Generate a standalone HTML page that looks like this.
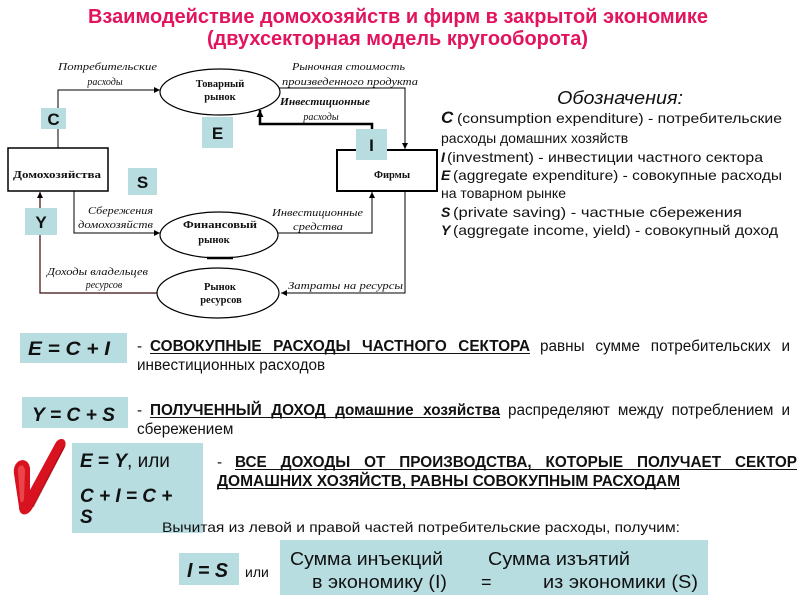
<!DOCTYPE html>
<html><head><meta charset="utf-8"><style>
html,body{margin:0;padding:0;background:#fff;width:800px;height:600px;overflow:hidden}
svg{display:block}
text{font-family:"Liberation Sans","DejaVu Sans",sans-serif}
.s{font-family:"Liberation Serif","DejaVu Serif",serif;font-style:italic;font-size:10px;fill:#111}
.n{font-family:"Liberation Serif","DejaVu Serif",serif;font-size:10.5px;font-weight:bold;fill:#111}
.lg{font-size:14px;fill:#111}
.d{font-size:15.3px;fill:#111}
.bi{font-weight:bold;font-style:italic}
</style></head><body>
<svg width="800" height="600" viewBox="0 0 800 600" xmlns="http://www.w3.org/2000/svg">
<defs>
<marker id="ar" viewBox="0 0 10 10" refX="10" refY="5" markerWidth="6" markerHeight="6" orient="auto-start-reverse" markerUnits="userSpaceOnUse"><path d="M0,0 L10,5 L0,10 z" fill="#000"/></marker>
<marker id="ar2" viewBox="0 0 10 10" refX="10" refY="5" markerWidth="7" markerHeight="7" orient="auto" markerUnits="userSpaceOnUse"><path d="M0,0 L10,5 L0,10 z" fill="#000"/></marker>
</defs>

<!-- Title -->
<text x="88" y="23" font-size="20" font-weight="bold" fill="#E3145E" textLength="620" lengthAdjust="spacingAndGlyphs">Взаимодействие домохозяйств и фирм в закрытой экономике</text>
<text x="207" y="45" font-size="20" font-weight="bold" fill="#E3145E" textLength="381" lengthAdjust="spacingAndGlyphs">(двухсекторная модель кругооборота)</text>

<!-- Diagram connectors -->
<polyline points="58,148 58,90 160,90" fill="none" stroke="#000" stroke-width="1" marker-end="url(#ar)"/>
<polyline points="279,88 405,88 405,149" fill="none" stroke="#000" stroke-width="1" marker-end="url(#ar)"/>
<polyline points="372,151 372,124 260,124 260,110" fill="none" stroke="#000" stroke-width="2.5" marker-end="url(#ar2)"/>
<polyline points="74,191 74,233 160,233" fill="none" stroke="#000" stroke-width="1" marker-end="url(#ar)"/>
<polyline points="278,233 372,233 372,192" fill="none" stroke="#000" stroke-width="1" marker-end="url(#ar)"/>
<polyline points="405,191 405,293 281,293" fill="none" stroke="#000" stroke-width="1" marker-end="url(#ar)"/>
<polyline points="157,293 40,293 40,192" fill="none" stroke="#3a0a0a" stroke-width="1.2" marker-end="url(#ar)"/>

<!-- Ellipses -->
<ellipse cx="220" cy="92" rx="60" ry="23" fill="#fff" stroke="#000" stroke-width="1.2"/>
<ellipse cx="219" cy="235" rx="59" ry="23" fill="#fff" stroke="#000" stroke-width="1.2"/>
<line x1="207" y1="258" x2="233" y2="258" stroke="#000" stroke-width="2.5"/>
<ellipse cx="218" cy="293" rx="61" ry="25" fill="#fff" stroke="#000" stroke-width="1.2"/>

<!-- Boxes -->
<rect x="8" y="148" width="100" height="43" fill="#fff" stroke="#000" stroke-width="1.5"/>
<rect x="337" y="150" width="100" height="41" fill="#fff" stroke="#000" stroke-width="2"/>

<!-- Node labels -->
<text class="n" x="220" y="87" text-anchor="middle">Товарный</text>
<text class="n" x="220" y="100" text-anchor="middle">рынок</text>
<text class="n" x="220" y="228" text-anchor="middle" textLength="74" lengthAdjust="spacingAndGlyphs">Финансовый</text>
<text class="n" x="214" y="243" text-anchor="middle">рынок</text>
<text class="n" x="220" y="290" text-anchor="middle">Рынок</text>
<text class="n" x="221" y="303" text-anchor="middle">ресурсов</text>
<text class="n" x="57" y="178" text-anchor="middle" textLength="88" lengthAdjust="spacingAndGlyphs">Домохозяйства</text>
<text class="n" x="392" y="178" text-anchor="middle">Фирмы</text>

<!-- Connector labels -->
<text class="s" x="58" y="70" textLength="99" lengthAdjust="spacingAndGlyphs">Потребительские</text>
<text class="s" x="105" y="85" text-anchor="middle">расходы</text>
<text class="s" x="292" y="70" textLength="113" lengthAdjust="spacingAndGlyphs">Рыночная стоимость</text>
<text class="s" x="282" y="85" textLength="136" lengthAdjust="spacingAndGlyphs">произведенного продукта</text>
<text class="s" x="280" y="105" font-weight="bold" textLength="90" lengthAdjust="spacingAndGlyphs">Инвестиционные</text>
<text class="s" x="321" y="120" text-anchor="middle">расходы</text>
<text class="s" x="88" y="214" textLength="65" lengthAdjust="spacingAndGlyphs">Сбережения</text>
<text class="s" x="78" y="228" textLength="75" lengthAdjust="spacingAndGlyphs">домохозяйств</text>
<text class="s" x="272" y="216" textLength="91" lengthAdjust="spacingAndGlyphs">Инвестиционные</text>
<text class="s" x="293" y="230" textLength="50" lengthAdjust="spacingAndGlyphs">средства</text>
<text class="s" x="47" y="275" textLength="101" lengthAdjust="spacingAndGlyphs">Доходы владельцев</text>
<text class="s" x="104" y="288" text-anchor="middle">ресурсов</text>
<text class="s" x="288" y="289" textLength="115" lengthAdjust="spacingAndGlyphs">Затраты на ресурсы</text>

<!-- Teal letter boxes -->
<rect x="41" y="108" width="25" height="21" fill="#B7DDE1"/>
<text x="53.5" y="125" font-size="17" font-weight="bold" text-anchor="middle" fill="#111">C</text>
<rect x="202" y="117" width="31" height="31" fill="#B7DDE1"/>
<text x="217.5" y="139" font-size="17" font-weight="bold" text-anchor="middle" fill="#111">E</text>
<rect x="356" y="129" width="31" height="31" fill="#B7DDE1"/>
<text x="371.5" y="151" font-size="17" font-weight="bold" text-anchor="middle" fill="#111">I</text>
<rect x="128" y="168" width="29" height="27" fill="#B7DDE1"/>
<text x="142.5" y="188" font-size="17" font-weight="bold" text-anchor="middle" fill="#111">S</text>
<rect x="25" y="208" width="32" height="27" fill="#B7DDE1"/>
<text x="41" y="228" font-size="17" font-weight="bold" text-anchor="middle" fill="#111">Y</text>

<!-- Legend -->
<text x="557" y="104" font-size="18" font-style="italic" fill="#111" textLength="126" lengthAdjust="spacingAndGlyphs">Обозначения:</text>
<text class="lg" x="441" y="123"><tspan class="bi" font-size="17">C</tspan></text>
<text class="lg" x="457" y="123" textLength="325" lengthAdjust="spacingAndGlyphs">(consumption expenditure) - потребительские</text>
<text class="lg" x="441" y="143">расходы домашних хозяйств</text>
<text class="lg" x="441" y="162"><tspan class="bi">I</tspan></text>
<text class="lg" x="447" y="162" textLength="316" lengthAdjust="spacingAndGlyphs">(investment) - инвестиции частного сектора</text>
<text class="lg" x="441" y="180"><tspan class="bi">E</tspan></text>
<text class="lg" x="453" y="180" textLength="329" lengthAdjust="spacingAndGlyphs">(aggregate expenditure) - совокупные расходы</text>
<text class="lg" x="441" y="198">на товарном рынке</text>
<text class="lg" x="441" y="217"><tspan class="bi">S</tspan></text>
<text class="lg" x="453" y="217" textLength="289" lengthAdjust="spacingAndGlyphs">(private saving) - частные сбережения</text>
<text class="lg" x="441" y="235"><tspan class="bi">Y</tspan></text>
<text class="lg" x="453" y="235" textLength="325" lengthAdjust="spacingAndGlyphs">(aggregate income, yield) - совокупный доход</text>

<!-- Formula 1 -->
<rect x="20" y="333" width="107" height="30" fill="#B7DDE1"/>
<text x="28" y="355" font-size="19" class="bi" fill="#111" textLength="82" lengthAdjust="spacingAndGlyphs">E = C + I</text>
<text class="d" x="137" y="351">-</text>
<text class="d" x="150" y="351" font-weight="bold" wl="380">СОВОКУПНЫЕ РАСХОДЫ ЧАСТНОГО СЕКТОРА</text>
<line x1="150" y1="353.5" x2="530" y2="353.5" stroke="#111" stroke-width="1"/>
<text class="d" x="540" y="351" wl="250">равны сумме потребительских и</text>
<text class="d" x="137" y="370">инвестиционных расходов</text>

<!-- Formula 2 -->
<rect x="22" y="397" width="106" height="31" fill="#B7DDE1"/>
<text x="32" y="421" font-size="19" class="bi" fill="#111" textLength="83" lengthAdjust="spacingAndGlyphs">Y = C + S</text>
<text class="d" x="137" y="415">-</text>
<text class="d" x="150" y="415" font-weight="bold" wl="350">ПОЛУЧЕННЫЙ ДОХОД домашние хозяйства</text>
<line x1="150" y1="417.5" x2="500" y2="417.5" stroke="#111" stroke-width="1"/>
<text class="d" x="508" y="415" wl="282">распределяют между потреблением и</text>
<text class="d" x="137" y="434">сбережением</text>

<!-- Check mark -->
<path d="M14,474 C12,459 28,455 30,468 L30,490 L55,444 C59,436 68,438 65,447 L32,509 C27,517 19,516 19,507 Z" fill="#D8121E"/>
<path d="M18,472 C17,464 24,463 25,470 L24,499 C23,504 20,503 20,498 Z" fill="#F2565A" opacity="0.75"/>
<path d="M33,507 L64,447" stroke="#9a0a10" stroke-width="1.5" fill="none" opacity="0.6"/>

<!-- Formula 3 -->
<rect x="72" y="443" width="131" height="90" fill="#B7DDE1"/>
<text x="80" y="467" font-size="19" fill="#111"><tspan class="bi">E</tspan><tspan font-weight="bold"> = </tspan><tspan class="bi">Y</tspan>, или</text>
<text x="80" y="502" font-size="19" class="bi" fill="#111">C + I = C +</text>
<text x="80" y="523" font-size="19" class="bi" fill="#111">S</text>
<text class="d" x="217" y="467">-</text>
<text class="d" x="235" y="467" font-weight="bold" wl="562">ВСЕ ДОХОДЫ ОТ ПРОИЗВОДСТВА, КОТОРЫЕ ПОЛУЧАЕТ СЕКТОР</text>
<line x1="235" y1="469.5" x2="797" y2="469.5" stroke="#111" stroke-width="1"/>
<text class="d" x="217" y="486" font-weight="bold" textLength="463" lengthAdjust="spacingAndGlyphs">ДОМАШНИХ ХОЗЯЙСТВ, РАВНЫ СОВОКУПНЫМ РАСХОДАМ</text>
<line x1="217" y1="488.5" x2="680" y2="488.5" stroke="#111" stroke-width="1"/>

<text class="lg" x="162" y="532" textLength="518" lengthAdjust="spacingAndGlyphs">Вычитая из левой и правой частей потребительские расходы, получим:</text>

<!-- Final -->
<rect x="179" y="553" width="60" height="32" fill="#B7DDE1"/>
<text x="187" y="577" font-size="20" class="bi" fill="#111" textLength="41" lengthAdjust="spacingAndGlyphs">I = S</text>
<text class="lg" x="245" y="577">или</text>
<rect x="280" y="540" width="428" height="55" fill="#B7DDE1"/>
<text x="290" y="565" font-size="18" fill="#111" textLength="153" lengthAdjust="spacingAndGlyphs">Сумма инъекций</text>
<text x="312" y="588" font-size="18" fill="#111" textLength="135" lengthAdjust="spacingAndGlyphs">в экономику (I)</text>
<text x="488" y="565" font-size="18" fill="#111" textLength="142" lengthAdjust="spacingAndGlyphs">Сумма изъятий</text>
<text x="481" y="588" font-size="18" fill="#111">=</text>
<text x="543" y="588" font-size="18" fill="#111" textLength="155" lengthAdjust="spacingAndGlyphs">из экономики (S)</text>
</svg>
<script>
document.querySelectorAll('text[wl]').forEach(function(t){
  var target=parseFloat(t.getAttribute('wl'));
  var n=(t.textContent.match(/ /g)||[]).length;
  var w=t.getComputedTextLength();
  if(n>0 && target>w){ var ws=((target-w)/n).toFixed(2); t.setAttribute('word-spacing',ws); t.style.wordSpacing=ws+'px'; }
  else if(target<w){ t.setAttribute('textLength',target); t.setAttribute('lengthAdjust','spacingAndGlyphs'); }
});
</script>
</body></html>
